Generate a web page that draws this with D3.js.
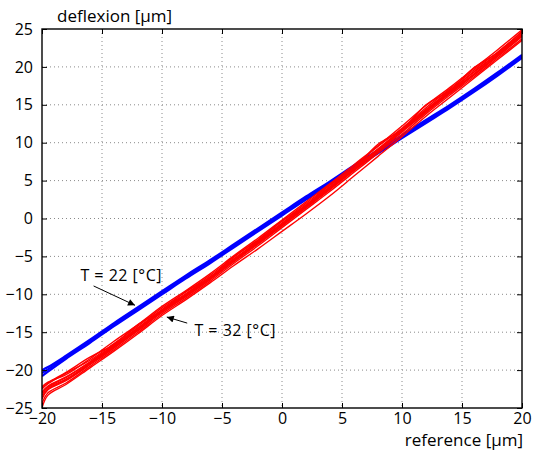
<!DOCTYPE html>
<html>
<head>
<meta charset="utf-8">
<script src="https://cdn.jsdelivr.net/npm/d3@7"></script>
<style>
  html, body { margin: 0; padding: 0; background: #fff; }
  svg { display: block; }
  text { font-family: "Open Sans", "Noto Sans", sans-serif; fill: #000; }
</style>
</head>
<body>
<svg id="chart" width="534" height="452"></svg>
<script>
// Sample positions along the reference axis [µm]
const refX = [-20, -19.5, -18, -16, -14, -12, -10, -8, -6, -4, -2, 0, 2, 4, 6, 8, 10, 12, 14, 16, 18, 20];

// Deflexion at T = 22 °C, repeated cycles [µm]
const cold1 = [-20.0, -19.6, -18.1, -16.0, -13.8, -11.7, -9.6, -7.5, -5.5, -3.4, -1.3, 0.8, 2.9, 4.9, 7.0, 9.0, 11.0, 13.0, 15.0, 17.1, 19.3, 21.6];
const cold2 = [-20.4, -19.9, -18.3, -16.2, -14.0, -11.9, -9.8, -7.7, -5.7, -3.6, -1.5, 0.6, 2.7, 4.7, 6.8, 8.8, 10.8, 12.8, 14.8, 16.9, 19.1, 21.4];
const cold3 = [-20.8, -20.2, -18.5, -16.4, -14.2, -12.1, -10.0, -7.9, -5.9, -3.8, -1.7, 0.4, 2.5, 4.5, 6.6, 8.6, 10.6, 12.6, 14.6, 16.7, 18.9, 21.2];

// Deflexion at T = 32 °C, repeated cycles [µm]
const warm1 = [-22.2, -21.6, -20.6, -18.5, -16.2, -14.0, -11.6, -9.5, -7.3, -4.9, -2.6, -0.2, 2.2, 4.6, 7.1, 9.6, 12.2, 14.9, 17.3, 19.8, 22.3, 24.9];
const warm2 = [-22.5, -21.8, -20.4, -18.7, -16.5, -14.2, -11.8, -9.7, -7.5, -5.1, -2.8, -0.4, 2.0, 4.4, 6.9, 9.5, 11.9, 14.6, 17.1, 19.6, 22.0, 24.6];
const warm3 = [-22.9, -22.1, -20.9, -18.9, -16.7, -14.4, -12.0, -9.9, -7.7, -5.3, -3.0, -0.6, 1.8, 4.2, 6.7, 9.2, 11.8, 14.4, 16.9, 19.4, 21.8, 24.4];
const warm4 = [-23.3, -22.3, -21.2, -19.1, -16.9, -14.6, -12.2, -10.1, -7.9, -5.5, -3.2, -0.8, 1.6, 4.0, 6.5, 9.0, 11.6, 14.2, 16.7, 19.1, 21.6, 24.2];
const warm5 = [-23.8, -22.6, -21.4, -19.3, -17.1, -14.8, -12.4, -10.3, -8.1, -5.7, -3.4, -1.0, 1.4, 3.8, 6.3, 8.8, 11.4, 14.0, 16.5, 18.9, 21.4, 24.0];
const warm6 = [-24.4, -23.0, -21.7, -19.5, -17.3, -15.0, -12.6, -10.5, -8.3, -5.9, -3.6, -1.2, 1.2, 3.6, 6.1, 8.6, 11.1, 13.8, 16.3, 18.7, 21.2, 23.7];
const warm7 = [-25.0, -23.3, -21.9, -19.7, -17.5, -15.2, -12.8, -10.7, -8.5, -6.2, -4.0, -1.7, 0.6, 3.0, 5.6, 8.2, 10.8, 13.5, 16.0, 18.5, 21.0, 23.5];
const warm8 = [-22.4, -21.7, -20.3, -18.3, -16.6, -14.0, -12.1, -9.6, -7.8, -5.0, -2.9, -0.3, 1.7, 4.5, 6.6, 9.8, 11.7, 15.0, 16.9, 19.9, 21.9, 24.7];
const warm9 = [-23.0, -22.2, -21.0, -19.0, -16.8, -14.5, -12.1, -10.0, -7.8, -5.4, -3.1, -0.7, 1.7, 4.1, 6.6, 9.1, 11.7, 14.3, 16.8, 19.3, 21.7, 24.3];
const warm10 = [-23.6, -22.5, -21.3, -19.2, -17.0, -14.7, -12.3, -10.2, -8.0, -5.6, -3.3, -0.9, 1.5, 3.9, 6.4, 8.9, 11.5, 14.1, 16.6, 19.0, 21.5, 24.1];

const coldSeries = [cold1, cold2, cold3];
const warmSeries = [warm1, warm2, warm3, warm4, warm5, warm6, warm7, warm8, warm9, warm10];

// Axis ticks
const xTicks = [-20, -15, -10, -5, 0, 5, 10, 15, 20];
const yTicks = [-25, -20, -15, -10, -5, 0, 5, 10, 15, 20, 25];

// Annotation labels
const coldLabel = "T = 22 [°C]";
const warmLabel = "T = 32 [°C]";

const W = 534, H = 452;
const margin = { top: 29, right: 12, bottom: 44, left: 42 };
const iw = W - margin.left - margin.right;
const ih = H - margin.top - margin.bottom;

const svg = d3.select("#chart");
const g = svg.append("g").attr("transform", `translate(${margin.left},${margin.top})`);

const x = d3.scaleLinear().domain([-20, 20]).range([0, iw]);
const y = d3.scaleLinear().domain([-25, 25]).range([ih, 0]);

const fmt = d3.format("");
const FONT = "'Open Sans', 'Noto Sans', sans-serif";

// Dotted grid
g.append("g").selectAll("line").data(xTicks.slice(1, -1)).join("line")
  .attr("x1", d => x(d)).attr("x2", d => x(d)).attr("y1", 0).attr("y2", ih)
  .attr("stroke", "#8a8a8a").attr("stroke-width", 1).attr("stroke-dasharray", "1,3");
g.append("g").selectAll("line").data(yTicks.slice(1, -1)).join("line")
  .attr("y1", d => y(d)).attr("y2", d => y(d)).attr("x1", 0).attr("x2", iw)
  .attr("stroke", "#8a8a8a").attr("stroke-width", 1).attr("stroke-dasharray", "1,3");

// Traces
const defs = svg.append("defs");
defs.append("clipPath").attr("id", "plotclip")
  .append("rect").attr("x", 0).attr("y", 0).attr("width", iw).attr("height", ih);

const line = d3.line().x((d, i) => x(refX[i])).y(d => y(d)).curve(d3.curveCatmullRom.alpha(0.5));
const traces = g.append("g").attr("clip-path", "url(#plotclip)");

traces.selectAll("path.cold").data(coldSeries).join("path").attr("class", "cold")
  .attr("d", line).attr("fill", "none").attr("stroke", "#0000ff")
  .attr("stroke-width", 2.2).attr("stroke-linejoin", "round");

traces.selectAll("path.warm").data(warmSeries).join("path").attr("class", "warm")
  .attr("d", line).attr("fill", "none").attr("stroke", "#ff0000")
  .attr("stroke-width", 1.4).attr("stroke-linejoin", "round");

// Axes with inward ticks
const tickLen = 5;
const axB = g.append("g").attr("transform", `translate(0,${ih})`)
  .call(d3.axisBottom(x).tickValues(xTicks).tickSizeInner(-tickLen).tickSizeOuter(0).tickPadding(5).tickFormat(fmt));
const axL = g.append("g")
  .call(d3.axisLeft(y).tickValues(yTicks).tickSizeInner(-tickLen).tickSizeOuter(0).tickPadding(9).tickFormat(fmt));
const axT = g.append("g")
  .call(d3.axisTop(x).tickValues(xTicks).tickSizeInner(-tickLen).tickSizeOuter(0).tickFormat(""));
const axR = g.append("g").attr("transform", `translate(${iw},0)`)
  .call(d3.axisRight(y).tickValues(yTicks).tickSizeInner(-tickLen).tickSizeOuter(0).tickFormat(""));

[axB, axL, axT, axR].forEach(a => {
  a.select(".domain").remove();
  a.selectAll(".tick line").attr("stroke", "#000").attr("stroke-width", 1);
  a.selectAll("text").attr("font-size", 16).attr("font-family", FONT).attr("fill", "#000");
});
axB.selectAll("text").attr("dy", "0.71em");

// Frame
g.append("rect").attr("x", 0).attr("y", 0).attr("width", iw).attr("height", ih)
  .attr("fill", "none").attr("stroke", "#000").attr("stroke-width", 1.4);

// Axis titles
svg.append("text").attr("x", 57).attr("y", 22).attr("font-size", 17).text("deflexion [µm]");
svg.append("text").attr("x", W - 11).attr("y", 446).attr("text-anchor", "end").attr("font-size", 17).text("reference [µm]");

// Annotations with arrows
defs.append("marker").attr("id", "arrowhead").attr("viewBox", "0 0 10 10")
  .attr("refX", 10).attr("refY", 5).attr("markerWidth", 9).attr("markerHeight", 7)
  .attr("markerUnits", "userSpaceOnUse").attr("orient", "auto")
  .append("path").attr("d", "M0,0 L10,5 L0,10 Z").attr("fill", "#000");

g.append("text").attr("x", x(-16.8)).attr("y", y(-8.3)).attr("font-size", 16)
  .attr("letter-spacing", 0.5).text(coldLabel);
g.append("line")
  .attr("x1", x(-15.7)).attr("y1", y(-8.9)).attr("x2", x(-12.25)).attr("y2", y(-11.45))
  .attr("stroke", "#000").attr("stroke-width", 1).attr("marker-end", "url(#arrowhead)");

g.append("text").attr("x", x(-7.3)).attr("y", y(-15.5)).attr("font-size", 16)
  .attr("letter-spacing", 0.5).text(warmLabel);
g.append("line")
  .attr("x1", x(-7.9)).attr("y1", y(-13.8)).attr("x2", x(-9.6)).attr("y2", y(-13.0))
  .attr("stroke", "#000").attr("stroke-width", 1).attr("marker-end", "url(#arrowhead)");
</script>
</body>
</html>
